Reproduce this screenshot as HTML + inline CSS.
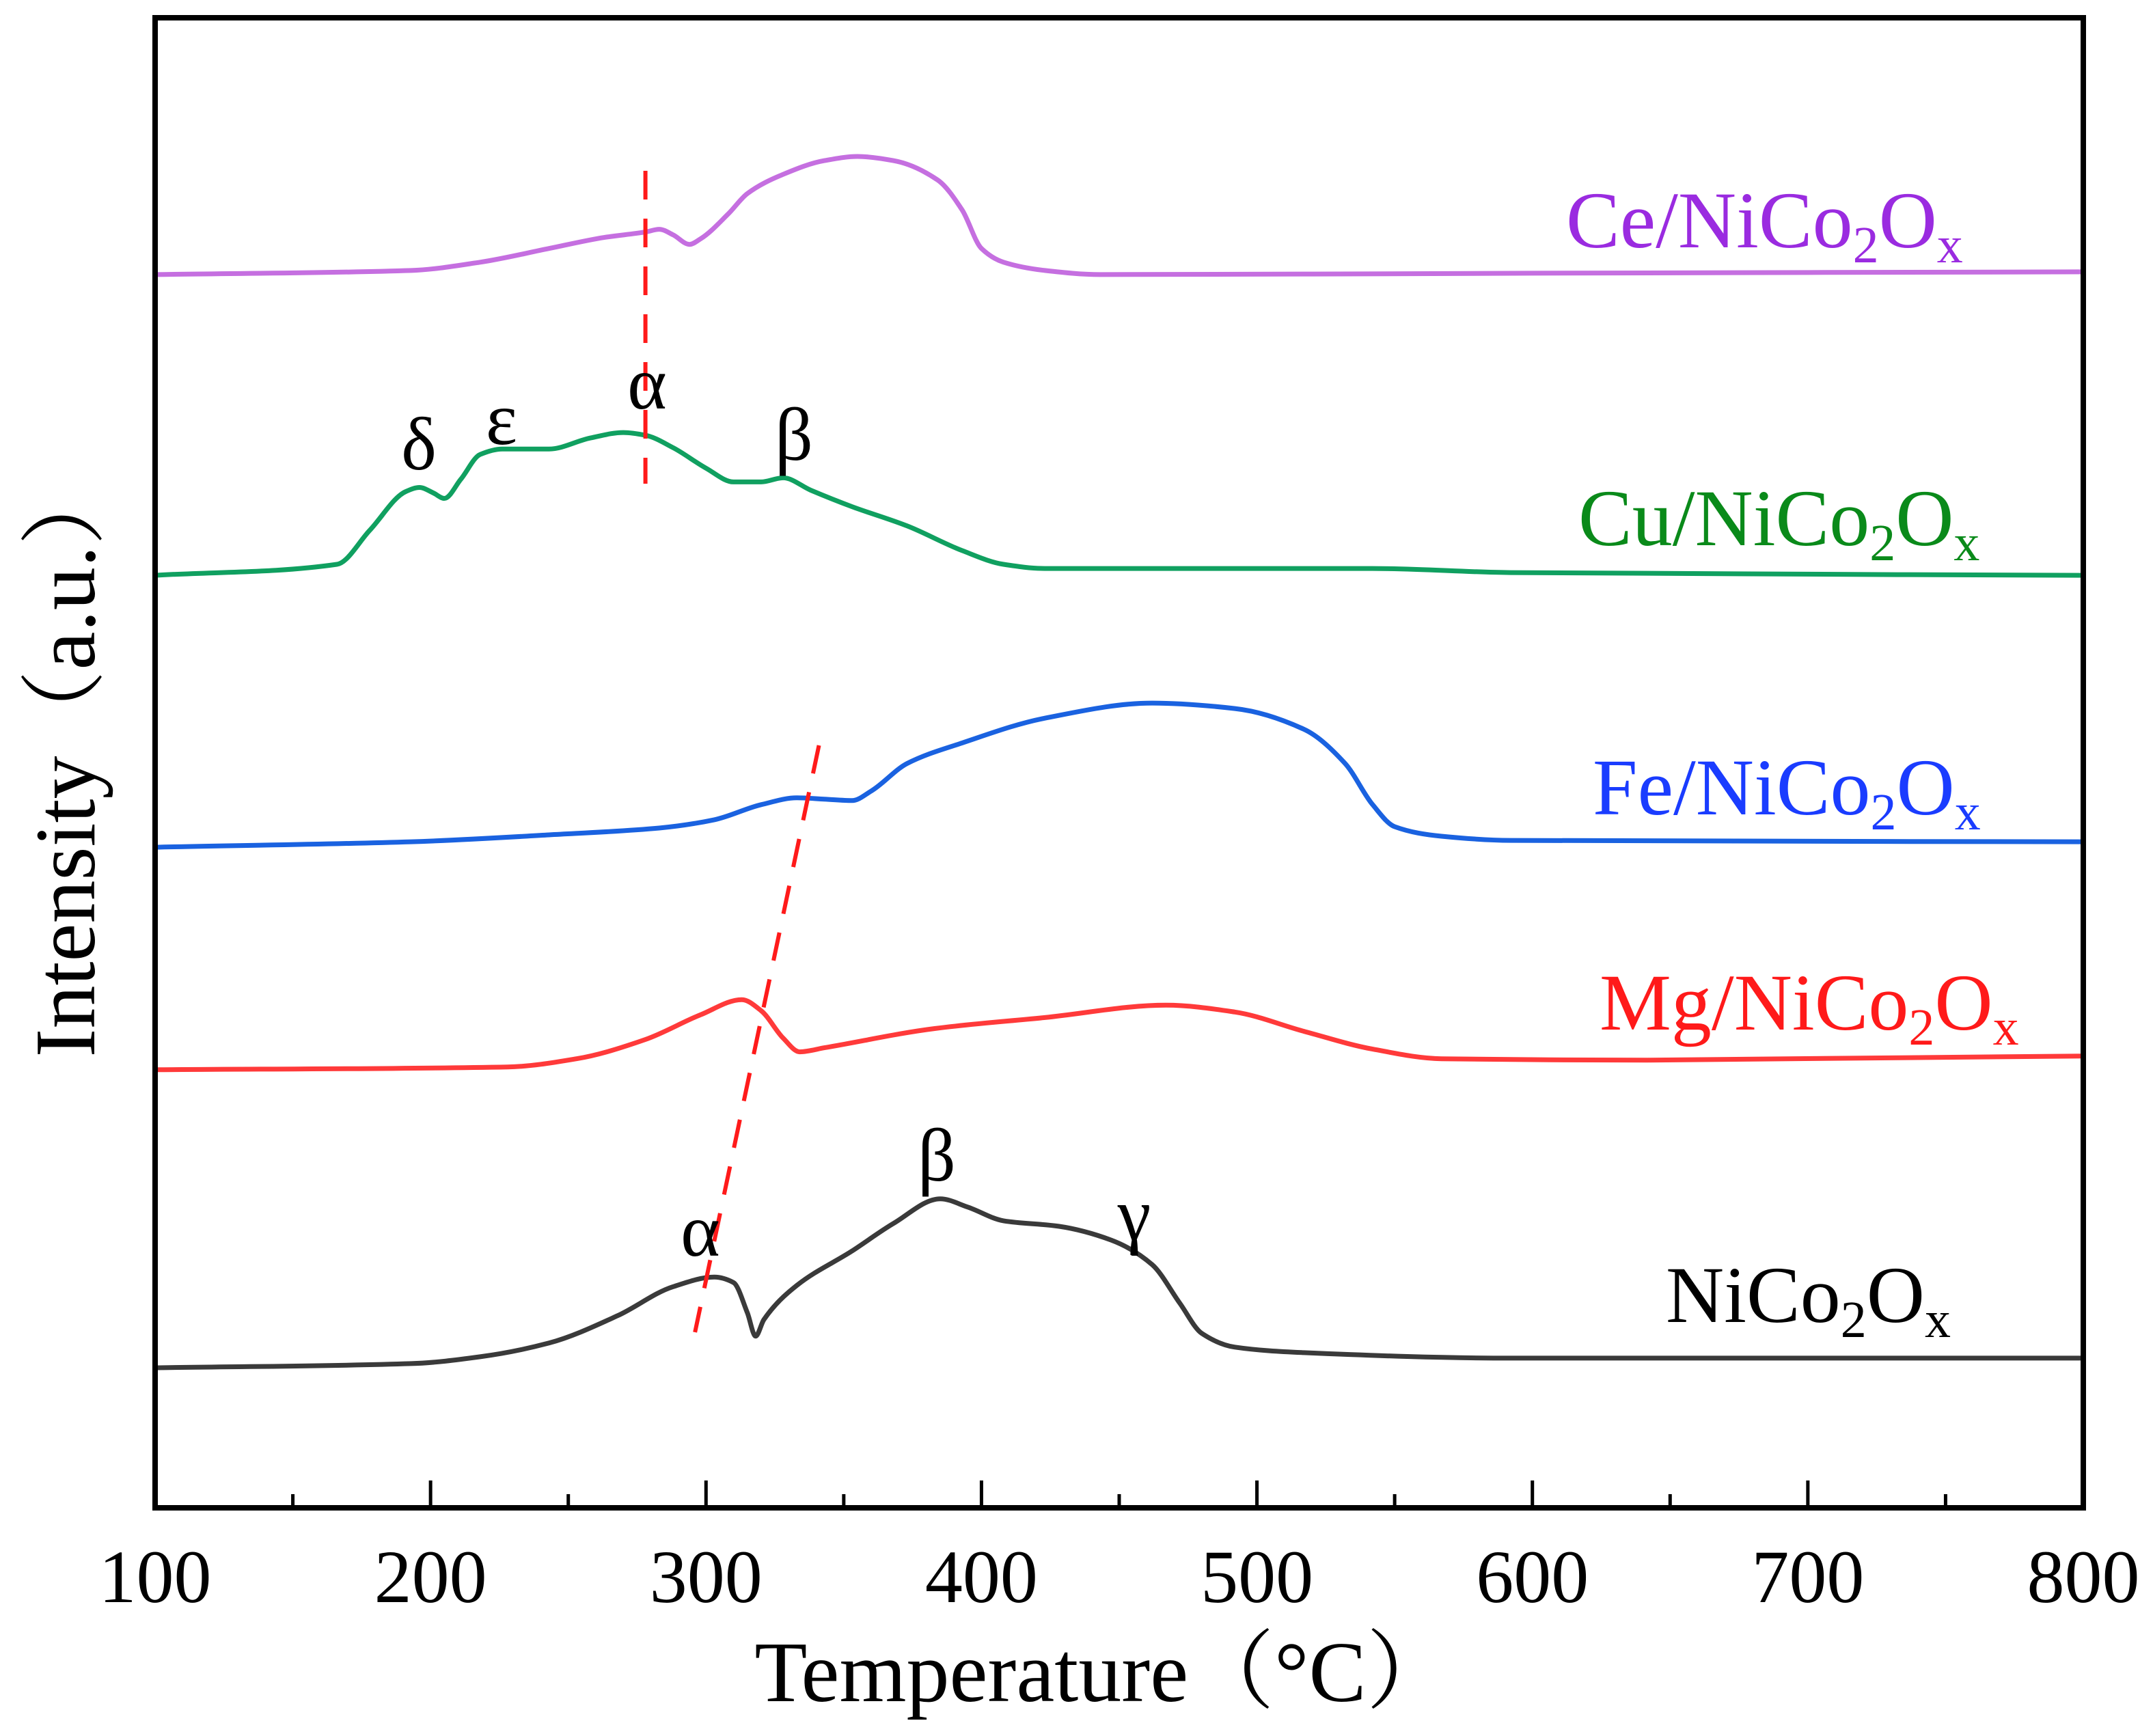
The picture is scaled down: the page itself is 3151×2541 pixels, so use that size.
<!DOCTYPE html>
<html><head><meta charset="utf-8"><style>
html,body{margin:0;padding:0;background:#fff}
svg{display:block}
text{font-family:"Liberation Serif","Noto Serif CJK SC",serif}
</style></head><body>
<svg id="chart" xmlns="http://www.w3.org/2000/svg" width="3151" height="2541" viewBox="0 0 3151 2541">
<rect width="3151" height="2541" fill="#fff"/>
<g id="series"></g>
<g id="axes"></g>
<g id="labels"></g>
</svg>
<script>
// Data: temperature (°C) and intensity (a.u., arbitrary offset units)
const ceT = [100,193,218,243,263,278,283,288,294,298,308,315,328,343,355,368,384,393,400,408,423,443,600,800];
const ceI = [898,901,907,917,925,929,931,927,920,924,942,957,971,981,984,981,967,945,917,907,901,898,899,900];
const cuT = [100,166,178,191,196,201,205,211,218,226,243,258,270,278,288,300,310,320,328,338,353,373,393,408,423,542,592,800];
const cuI = [679,687,712,740,743,739,735,749,767,771,771,779,783,781,772,757,747,747,750,741,729,715,697,687,684,684,681,679];
const feT = [100,193,243,283,303,320,333,343,353,360,373,393,423,462,492,517,532,542,550,567,592,800];
const feI = [481,485,490,495,501,512,517,516,515,522,542,557,575,586,582,567,542,512,496,489,486,485];
const mgT = [100,228,253,278,298,313,320,328,334,343,383,423,467,492,517,542,567,642,800];
const mgI = [319,321,327,341,359,370,362,342,332,335,349,357,366,361,347,334,327,326,329];
const niT = [100,193,218,243,268,288,303,310,315,318,321,333,353,368,385,395,408,428,447,462,472,480,492,517,592,800];
const niI = [102,105,110,120,140,161,168,164,142,125,137,162,187,207,225,219,209,205,195,177,149,127,117,113,109,109];
const xTicks = [100,200,300,400,500,600,700,800];
const xTickLabels = ["100","200","300","400","500","600","700","800"];
const xMinorTicks = [150,250,350,450,550,650,750];
const seriesNames = ["Ce/NiCo2Ox","Cu/NiCo2Ox","Fe/NiCo2Ox","Mg/NiCo2Ox","NiCo2Ox"];

const L=227,R=3049,T=26,B=2207;
const xs = t => L + (t-100)*(R-L)/700;
const ys = v => B - v*(B-T)/1085;
const NS="http://www.w3.org/2000/svg";
function mk(tag, parent){const e=document.createElementNS(NS,tag);parent.appendChild(e);return e;}

function smoothPath(T_, I_){
  const x=T_.map(xs), y=I_.map(ys), n=x.length;
  const d=[],m=new Array(n);
  for(let i=0;i<n-1;i++) d.push((y[i+1]-y[i])/(x[i+1]-x[i]));
  m[0]=d[0]; m[n-1]=d[n-2];
  for(let i=1;i<n-1;i++){
    if(d[i-1]*d[i]<=0) m[i]=0;
    else { const h0=x[i]-x[i-1],h1=x[i+1]-x[i]; const w1=2*h1+h0,w2=h1+2*h0; m[i]=(w1+w2)/(w1/d[i-1]+w2/d[i]); }
  }
  let s="M"+x[0].toFixed(1)+","+y[0].toFixed(1);
  for(let i=0;i<n-1;i++){
    const h=(x[i+1]-x[i])/3;
    s+=" C"+(x[i]+h).toFixed(1)+","+(y[i]+m[i]*h).toFixed(1)+" "+(x[i+1]-h).toFixed(1)+","+(y[i+1]-m[i+1]*h).toFixed(1)+" "+x[i+1].toFixed(1)+","+y[i+1].toFixed(1);
  }
  return s;
}
const sg=document.getElementById('series');
const defs=[[ceT,ceI,"#c56fe0","ce-curve"],[cuT,cuI,"#10a060","cu-curve"],[feT,feI,"#1a62e0","fe-curve"],[mgT,mgI,"#ff3a3a","mg-curve"],[niT,niI,"#3a3a3a","nico-curve"]];
defs.forEach(s=>{
  const p=mk('path',sg);
  p.setAttribute('d',smoothPath(s[0],s[1]));
  p.setAttribute('fill','none');p.setAttribute('stroke',s[2]);p.setAttribute('stroke-width','7');p.setAttribute('stroke-linejoin','round');
  
  
});
const d1=mk('line',sg);
d1.setAttribute('x1',xs(278));d1.setAttribute('x2',xs(278));d1.setAttribute('y1',250);d1.setAttribute('y2',708);
d1.setAttribute('stroke','#ff1a1a');d1.setAttribute('stroke-width','6');d1.setAttribute('stroke-dasharray','42,28');


const d2=mk('line',sg);
d2.setAttribute('x1',xs(341));d2.setAttribute('y1',1091);d2.setAttribute('x2',xs(296));d2.setAttribute('y2',1950);
d2.setAttribute('stroke','#ff1a1a');d2.setAttribute('stroke-width','6');d2.setAttribute('stroke-dasharray','42,28');



const ag=document.getElementById('axes');
const fr=mk('rect',ag);
fr.setAttribute('x',L);fr.setAttribute('y',T);fr.setAttribute('width',R-L);fr.setAttribute('height',B-T);
fr.setAttribute('fill','none');fr.setAttribute('stroke','#000');fr.setAttribute('stroke-width','8');


xTicks.forEach((t,i)=>{
  const l=mk('line',ag);
  l.setAttribute('x1',xs(t));l.setAttribute('x2',xs(t));l.setAttribute('y1',B);l.setAttribute('y2',B-40);
  l.setAttribute('stroke','#000');l.setAttribute('stroke-width','5');
  
  
  const tx=mk('text',ag);
  tx.setAttribute('x',xs(t));tx.setAttribute('y',2345);tx.setAttribute('text-anchor','middle');tx.setAttribute('font-size','110');
  tx.textContent=xTickLabels[i];
  
  
});
xMinorTicks.forEach(t=>{
  const l=mk('line',ag);
  l.setAttribute('x1',xs(t));l.setAttribute('x2',xs(t));l.setAttribute('y1',B);l.setAttribute('y2',B-20);
  l.setAttribute('stroke','#000');l.setAttribute('stroke-width','5');
  
  
});
</script>
<script>
(function(){
const svg=document.getElementById('labels');
svg.insertAdjacentHTML('beforeend',`
<text x="1615" y="2490" text-anchor="middle" font-size="126">Temperature（°C）</text>
<text transform="translate(138,1110) rotate(-90)" text-anchor="middle" font-size="126">Intensity（a.u.）</text>
<text x="2292" y="362" font-size="118" fill="#9a2be0">Ce/NiCo<tspan font-size="76" dy="22">2</tspan><tspan dy="-22">O</tspan><tspan font-size="76" dy="22">x</tspan></text>
<text x="2310" y="798" font-size="118" fill="#0a8a1a">Cu/NiCo<tspan font-size="76" dy="22">2</tspan><tspan dy="-22">O</tspan><tspan font-size="76" dy="22">x</tspan></text>
<text x="2331" y="1192" font-size="118" fill="#1a3cff">Fe/NiCo<tspan font-size="76" dy="22">2</tspan><tspan dy="-22">O</tspan><tspan font-size="76" dy="22">x</tspan></text>
<text x="2341" y="1507" font-size="118" fill="#ff1a1a">Mg/NiCo<tspan font-size="76" dy="22">2</tspan><tspan dy="-22">O</tspan><tspan font-size="76" dy="22">x</tspan></text>
<text x="2438" y="1935" font-size="118" fill="#000">NiCo<tspan font-size="76" dy="22">2</tspan><tspan dy="-22">O</tspan><tspan font-size="76" dy="22">x</tspan></text>
<text x="613" y="687" text-anchor="middle" font-size="110">δ</text>
<text x="734" y="650" text-anchor="middle" font-size="110">ε</text>
<text x="947" y="598" text-anchor="middle" font-size="110">α</text>
<text x="1162" y="673" text-anchor="middle" font-size="110">β</text>
<text x="1025" y="1838" text-anchor="middle" font-size="110">α</text>
<text x="1371" y="1728" text-anchor="middle" font-size="110">β</text>
<text x="1660" y="1815" text-anchor="middle" font-size="110">γ</text>
`);
})();
</script>
</body></html>
